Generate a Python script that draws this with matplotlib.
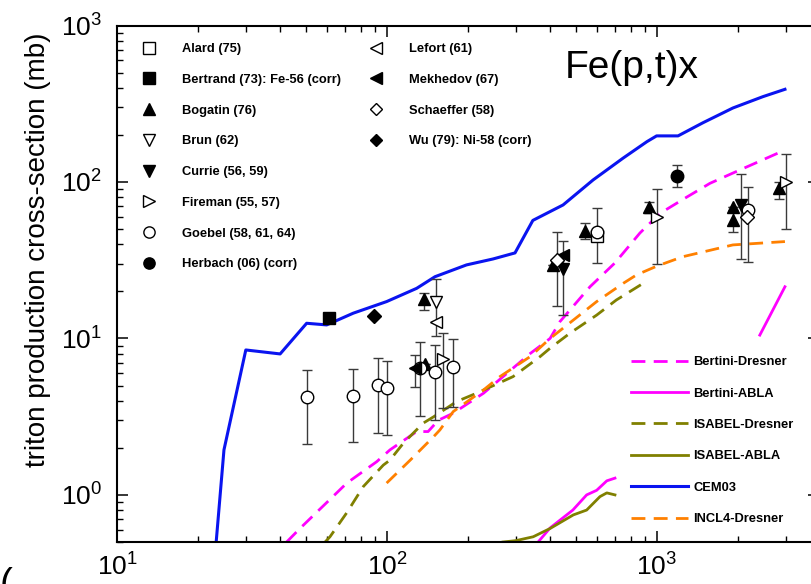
import matplotlib
matplotlib.use('Agg')
import matplotlib.pyplot as plt
from matplotlib.lines import Line2D
import numpy as np

plt.rcParams['font.family'] = ['Liberation Sans', 'DejaVu Sans']
plt.rcParams['mathtext.fontset'] = 'custom'
plt.rcParams['mathtext.rm'] = 'Liberation Sans'
plt.rcParams['mathtext.it'] = 'Liberation Sans'

# ---- model curves (energy MeV, cross-section mb) ----
cem_x = [23.3, 24.9, 30.0, 40.2, 50.4, 59.8, 75.0, 99.7, 128.8, 150.6, 197, 247, 298,
         347, 449, 580, 749, 918, 997, 1197, 1480, 1911, 2469, 2979]
cem_y = [0.5, 1.94, 8.44, 7.96, 12.5, 12.2, 14.5, 17.2, 20.9, 24.8, 29.5, 32.2, 35.2,
         56.8, 71.3, 103, 142, 181, 197, 197, 239, 297, 351, 391]

bd_x = [42.5, 47.6, 71, 91.6, 102.6, 128.8, 142, 155, 176, 228, 339, 402, 437, 565,
        699, 865, 1026, 1289, 1571, 1911, 2979]
bd_y = [0.5, 0.61, 1.19, 1.63, 1.94, 2.54, 2.54, 3.0, 3.33, 4.47, 8.0, 10, 12.8, 21.4,
        30.4, 47.2, 63, 80, 98, 114, 160]

ba_x = [363, 402, 488, 549, 598, 652, 699, np.nan, 2404, 2979]
ba_y = [0.5, 0.615, 0.80, 1.0, 1.07, 1.23, 1.28, np.nan, 10.5, 21.4]

id_x = [59, 61.5, 71, 81.7, 96.9, 102.6, 115, 136, 149, 181, 215, 293, 369, 402, 476,
        598, 707, 889]
id_y = [0.5, 0.54, 0.77, 1.13, 1.55, 1.67, 2.14, 2.87, 3.16, 3.95, 4.47, 5.7, 7.65,
        8.66, 10.8, 14.1, 17.6, 22.5]

ia_x = [269, 300, 348, 402, 490, 549, 615, 652, 699]
ia_y = [0.5, 0.51, 0.54, 0.61, 0.745, 0.80, 0.975, 1.03, 1.0]

incl_x = [99.7, 122, 149, 157, 176, 228, 262, 339, 402, 490, 598, 750, 841, 1000,
          1247, 1911, 2979]
incl_y = [1.19, 1.67, 2.36, 2.6, 3.41, 4.69, 5.7, 7.65, 10, 13.1, 17.2, 22.5, 25.5,
          29, 33.3, 39.6, 41.6]

# ---- experimental data: x, y, lower bound, upper bound ----
alard_x = [598]
alard_y = [45]
alard_lo = [45]
alard_hi = [45]

bertrand_x = [61]
bertrand_y = [13.6]
bertrand_lo = [13.6]
bertrand_hi = [13.6]

bogatin_x = [137, 138, 411, 541, 933, 1920, 1920, 2840]
bogatin_y = [17.8, 6.9, 29.5, 48.9, 68.9, 69, 57, 91]
bogatin_lo = [15.2, 6.9, 29.5, 43, 63, 69, 48, 78]
bogatin_hi = [19.5, 6.9, 29.5, 55, 75, 69, 66, 100]

brun_x = [152]
brun_y = [17.2]
brun_lo = [10.3]
brun_hi = [24]

currie_x = [447, 2040]
currie_y = [27.7, 71.3]
currie_lo = [14.1, 32]
currie_hi = [42.2, 112]

fireman_x = [161, 1002, 3018]
fireman_y = [7.4, 60, 100]
fireman_lo = [3.58, 29.8, 50]
fireman_hi = [10.8, 90, 150]

goebel_x = [50.4, 75, 92.9, 99.7, 133, 150, 176, 598, 2178]
goebel_y = [4.21, 4.31, 5.02, 4.81, 6.45, 6.08, 6.55, 48.1, 66.2]
goebel_lo = [2.11, 2.19, 2.5, 2.4, 3.2, 3.0, 3.67, 30.2, 31]
goebel_hi = [6.27, 6.4, 7.5, 7.2, 9.55, 9.1, 9.86, 67.9, 93]

herbach_x = [1189]
herbach_y = [109]
herbach_lo = [93]
herbach_hi = [128]

lefort_x = [152]
lefort_y = [12.8]
lefort_lo = [12.8]
lefort_hi = [12.8]

mekhedov_x = [127, 447]
mekhedov_y = [6.45, 34.2]
mekhedov_lo = [4.9, 34.2]
mekhedov_hi = [7.8, 34.2]

schaeffer_x = [427, 2150]
schaeffer_y = [31.8, 60]
schaeffer_lo = [16, 60]
schaeffer_hi = [48.2, 60]

wu_x = [89.5]
wu_y = [14.0]
wu_lo = [14.0]
wu_hi = [14.0]

fig = plt.figure(figsize=(8.12, 5.84), dpi=100)
ax = fig.add_axes([117 / 812, 1 - 542 / 584, 702.5 / 812, 516.5 / 584])
ax.set_xscale('log')
ax.set_yscale('log')
ax.set_xlim(10, 4000)
ax.set_ylim(0.5, 1000)

BLUE = '#0a14f0'
MAGENTA = '#ff00ff'
OLIVE = '#808000'
ORANGE = '#ff8000'
dash = (0, (5, 3))

l_bd, = ax.plot(bd_x, bd_y, color=MAGENTA, lw=2.0, ls=dash, label='Bertini-Dresner')
l_ba, = ax.plot(ba_x, ba_y, color=MAGENTA, lw=2.0, label='Bertini-ABLA')
l_id, = ax.plot(id_x, id_y, color=OLIVE, lw=2.0, ls=dash, label='ISABEL-Dresner')
l_ia, = ax.plot(ia_x, ia_y, color=OLIVE, lw=2.0, label='ISABEL-ABLA')
l_cem, = ax.plot(cem_x, cem_y, color=BLUE, lw=2.2, label='CEM03')
l_incl, = ax.plot(incl_x, incl_y, color=ORANGE, lw=2.0, ls=dash, label='INCL4-Dresner')

exp_sets = [
    ('Alard (75)', 's', 'white', alard_x, alard_y, alard_lo, alard_hi),
    ('Bertrand (73): Fe-56 (corr)', 's', 'black', bertrand_x, bertrand_y, bertrand_lo, bertrand_hi),
    ('Bogatin (76)', '^', 'black', bogatin_x, bogatin_y, bogatin_lo, bogatin_hi),
    ('Brun (62)', 'v', 'white', brun_x, brun_y, brun_lo, brun_hi),
    ('Currie (56, 59)', 'v', 'black', currie_x, currie_y, currie_lo, currie_hi),
    ('Fireman (55, 57)', '>', 'white', fireman_x, fireman_y, fireman_lo, fireman_hi),
    ('Goebel (58, 61, 64)', 'o', 'white', goebel_x, goebel_y, goebel_lo, goebel_hi),
    ('Herbach (06) (corr)', 'o', 'black', herbach_x, herbach_y, herbach_lo, herbach_hi),
    ('Lefort (61)', '<', 'white', lefort_x, lefort_y, lefort_lo, lefort_hi),
    ('Mekhedov (67)', '<', 'black', mekhedov_x, mekhedov_y, mekhedov_lo, mekhedov_hi),
    ('Schaeffer (58)', 'D', 'white', schaeffer_x, schaeffer_y, schaeffer_lo, schaeffer_hi),
    ('Wu (79): Ni-58 (corr)', 'D', 'black', wu_x, wu_y, wu_lo, wu_hi),
]

handles = []
for name, mk, fc, xs, ys, lo, hi in exp_sets:
    ys_a = np.array(ys)
    yerr = [ys_a - np.array(lo), np.array(hi) - ys_a]
    ms = 7 if mk == 'D' else 9
    ax.errorbar(xs, ys, yerr=yerr, fmt=mk, ms=ms, mfc=fc, mec='black', mew=1.0,
                ecolor='#3a3a3a', elinewidth=1.0, capsize=3.6, capthick=1.0, zorder=5)
    handles.append(Line2D([], [], marker=mk, ls='none', ms=ms * 0.9, mfc=fc,
                          mec='black', mew=1.0, label=name))

leg_font = {'family': 'Liberation Sans', 'size': 9.3, 'weight': 'bold'}
leg1 = ax.legend(handles=handles[:8], loc='upper left', bbox_to_anchor=(0.033, 0.966),
                 frameon=False, prop=leg_font, borderaxespad=0, borderpad=0,
                 handlelength=1.4, handletextpad=1.86, labelspacing=1.45)
ax.add_artist(leg1)
leg2 = ax.legend(handles=handles[8:], loc='upper left', bbox_to_anchor=(0.356, 0.966),
                 frameon=False, prop=leg_font, borderaxespad=0, borderpad=0,
                 handlelength=1.4, handletextpad=1.86, labelspacing=1.45)
ax.add_artist(leg2)
ax.legend(handles=[l_bd, l_ba, l_id, l_ia, l_cem, l_incl], loc='upper left',
          bbox_to_anchor=(0.7317, 0.360), frameon=False, prop=leg_font,
          borderaxespad=0, borderpad=0, handlelength=4.42, handletextpad=0.39,
          labelspacing=1.5)

ax.text(0.6377, 0.918, 'Fe(p,t)x', transform=ax.transAxes, fontsize=28,
        ha='left', va='center')

fig.text(38 / 812, 1 - 250 / 584, 'triton production cross-section (mb)', rotation=90,
         fontsize=20, ha='center', va='center')
# fragment of the neighbouring panel label, cut by the bottom edge
fig.text(0.0, 1 - 567 / 584, '(', fontsize=28, ha='left', va='top')

ax.tick_params(which='both', direction='in', top=True, right=True, labelsize=19)
ax.tick_params(which='major', length=8, width=1.1)
ax.tick_params(which='minor', length=4.5, width=1.0)
ax.tick_params(axis='x', pad=8)
ax.tick_params(axis='y', pad=11)
for s in ax.spines.values():
    s.set_linewidth(1.5)

fig.savefig('out.png', dpi=100, facecolor='white')
